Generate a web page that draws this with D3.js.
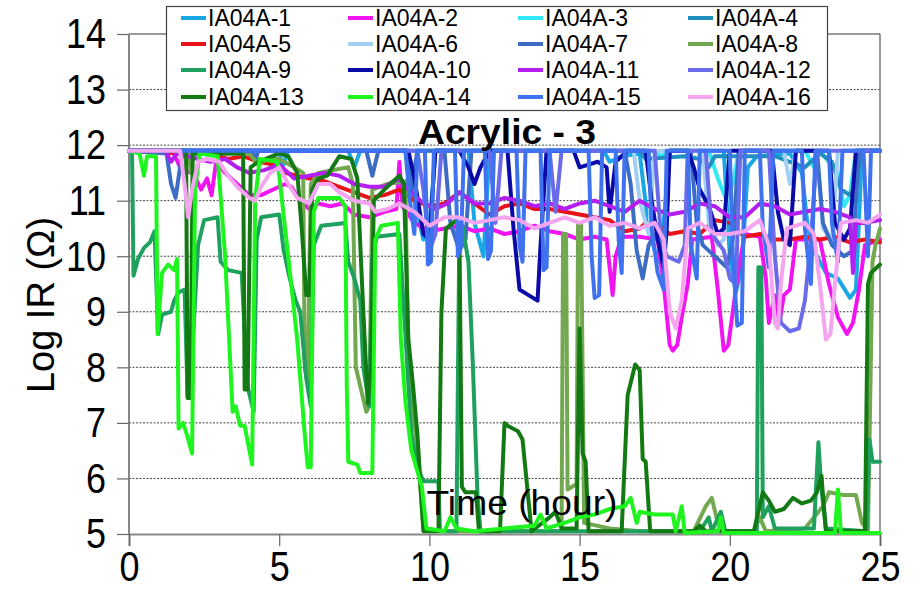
<!DOCTYPE html>
<html>
<head>
<meta charset="utf-8">
<script src="https://cdn.jsdelivr.net/npm/d3@7"></script>
<style>
  body { margin: 0; background: #fff; }
  svg { display: block; font-family: "Liberation Sans", Arial, sans-serif; }
</style>
</head>
<body>
<div id="chart"></div>
<script>
// series names, legend order
var names = ["IA04A-1","IA04A-2","IA04A-3","IA04A-4","IA04A-5","IA04A-6","IA04A-7","IA04A-8",
             "IA04A-9","IA04A-10","IA04A-11","IA04A-12","IA04A-13","IA04A-14","IA04A-15","IA04A-16"];
var colors = ["#1aa7e6","#f014f0","#33e8f5","#1f8fbf","#e8141a","#a3cff2","#3d6cc4","#72a84f",
              "#1fa05e","#0a0aa8","#b41ef0","#6b6bea","#137a13","#1ef51e","#3f72ee","#f5a5ef"];
var yTicks = [5,6,7,8,9,10,11,12,13,14];
var xTicks = [0,5,10,15,20,25];

// [hour, log IR]
var ia01 = [[0,11.9],[5.0,11.9],[5.1,11.6],[5.3,11.9],[7.3,11.9],[7.5,11.6],[7.7,11.9],[9.3,11.9],[9.5,11.0],[9.8,10.3],[10.0,10.5],[10.2,11.9],[11.3,11.9],[11.5,10.6],[11.8,10.0],[12.0,11.9],[15.8,11.9],[16.0,11.7],[16.4,11.8],[17.0,11.85],[17.3,10.5],[17.6,9.9],[17.8,10.6],[18.0,11.9],[19.8,11.9],[20.0,10.0],[20.2,9.35],[20.4,9.8],[20.6,11.6],[20.9,11.8],[22.0,11.85],[22.4,11.5],[22.6,10.5],[22.9,10.0],[23.2,9.7],[23.6,9.6],[24.0,9.25],[24.2,9.4],[24.4,11.9],[25,11.9]];
var ia02 = [[0,11.9],[1.5,11.85],[1.7,11.6],[1.9,11.5],[2.1,11.55],[2.4,11.2],[2.6,11.4],[2.75,11.1],[2.9,11.7],[3.2,11.5],[3.6,11.3],[4.0,11.1],[4.4,11.1],[4.8,11.2],[5.2,11.3],[5.4,11.25],[5.7,11.0],[6.0,10.85],[6.3,10.95],[6.7,10.9],[7.1,10.95],[7.5,10.75],[8.0,10.7],[8.5,10.8],[8.9,10.85],[9.0,11.7],[9.1,10.9],[9.5,10.6],[10.0,10.45],[10.5,10.5],[11.0,10.55],[11.5,10.45],[12.0,10.5],[12.5,10.4],[13.0,10.45],[13.5,10.55],[14.0,10.45],[14.5,10.4],[15.0,10.3],[15.5,10.35],[15.9,10.3],[16.0,9.8],[16.1,9.3],[16.2,10.0],[16.4,10.35],[17.0,10.35],[17.6,10.3],[17.8,9.5],[18.0,8.4],[18.1,8.3],[18.25,8.4],[18.4,8.9],[18.6,9.5],[18.75,10.3],[19.4,10.35],[19.6,9.4],[19.8,8.3],[19.95,8.4],[20.1,9.0],[20.3,9.8],[20.5,10.4],[21.0,10.35],[21.2,9.6],[21.3,8.8],[21.5,9.3],[21.65,8.8],[21.8,9.3],[22.0,9.4],[22.2,10.3],[23.0,10.3],[23.3,9.5],[23.6,8.9],[23.9,8.6],[24.1,8.8],[24.3,9.4],[24.5,10.2],[25,10.3]];
var ia03 = [[0,11.9],[17.5,11.9],[17.7,11.8],[18.0,11.9],[19.3,11.9],[19.6,11.4],[19.9,11.0],[20.1,11.3],[20.3,11.9],[22.5,11.9],[22.8,11.6],[23.0,11.9],[23.6,11.5],[23.8,10.9],[24.0,11.1],[24.2,11.9],[25,11.9]];
var ia04 = [[0,11.9],[17.0,11.9],[17.2,11.75],[18.5,11.8],[19.0,11.75],[19.3,11.6],[19.5,11.8],[21.5,11.8],[22.0,11.7],[22.5,11.6],[23.0,11.85],[23.4,11.7],[23.7,11.2],[24.0,11.1],[24.2,11.3],[24.4,11.9],[25,11.9]];
var ia05 = [[0,11.9],[2.0,11.85],[2.5,11.85],[3.0,11.8],[3.3,11.75],[3.8,11.8],[4.3,11.7],[4.8,11.65],[5.2,11.5],[5.6,11.45],[6.0,11.4],[6.5,11.35],[7.0,11.25],[7.5,11.15],[8.0,11.05],[8.5,11.1],[9.0,11.2],[9.5,11.0],[10.0,10.9],[10.5,10.95],[11.0,11.15],[11.5,10.95],[12.0,10.75],[12.5,10.9],[13.0,10.95],[13.5,10.85],[14.0,10.85],[14.5,10.8],[15.0,10.75],[15.5,10.7],[16.0,10.65],[16.5,10.45],[17.0,10.5],[17.3,10.65],[17.6,10.55],[18.0,10.4],[18.5,10.45],[19.0,10.4],[19.5,10.65],[20.0,10.6],[20.5,10.35],[21.0,10.4],[21.5,10.3],[22.0,10.3],[22.5,10.35],[23.0,10.3],[23.5,10.35],[24.0,10.25],[24.5,10.3],[25,10.25]];
var ia06 = [[0,11.9],[16.8,11.9],[17.0,11.0],[17.3,10.4],[17.5,11.9],[19.1,11.9],[19.3,10.6],[19.6,10.2],[19.8,10.3],[20.0,11.9],[21.8,11.9],[22.0,11.3],[22.2,11.9],[22.9,11.9],[23.1,10.5],[23.4,10.3],[23.6,11.9],[25,11.9]];
var ia07 = [[0,11.9],[1.25,11.85],[1.4,11.3],[1.55,11.05],[1.7,11.6],[1.8,11.9],[4.1,11.9],[4.2,11.7],[4.3,11.9],[7.9,11.9],[8.1,11.45],[8.3,11.9],[9.2,11.9],[9.4,11.2],[9.6,11.9],[10.5,11.9],[10.7,10.6],[11.0,10.1],[11.2,10.3],[11.4,11.9],[16.5,11.9],[16.7,11.3],[16.9,10.1],[17.1,9.6],[17.3,10.2],[17.5,10.4],[17.8,10.3],[18.0,11.9],[18.7,11.9],[18.9,10.6],[19.1,10.2],[19.5,10.0],[19.9,9.8],[20.1,10.3],[20.3,11.9],[22.9,11.9],[23.1,10.6],[23.4,10.2],[23.8,10.0],[24.1,10.1],[24.3,11.9],[25,11.9]];
var ia08 = [[0,11.9],[2.0,11.9],[2.05,11.5],[2.15,11.85],[4.0,11.85],[4.3,11.65],[4.6,11.75],[5.0,11.75],[5.5,11.6],[5.8,11.5],[5.85,8.0],[5.95,7.7],[6.05,11.3],[6.3,11.5],[7.3,11.6],[7.45,11.3],[7.55,8.0],[7.9,7.2],[8.0,7.3],[8.1,11.2],[8.6,11.3],[9.2,11.35],[9.3,8.0],[9.6,6.5],[9.8,5.1],[10.5,5.05],[14.4,5.05],[14.45,10.4],[14.55,10.4],[14.6,5.8],[14.9,5.9],[14.95,10.6],[15.05,10.6],[15.15,5.2],[16,5.1],[17,5.05],[18.8,5.05],[19.2,5.5],[19.4,5.65],[19.6,5.2],[19.8,5.05],[20.8,5.05],[21.0,5.3],[21.2,5.05],[22.5,5.1],[23.1,5.5],[23.3,5.75],[23.8,5.7],[24.2,5.7],[24.4,5.2],[24.6,5.05],[24.75,9.9],[24.85,10.2],[25,10.5]];
var ia09 = [[0,11.9],[0.1,11.9],[0.15,9.65],[0.3,9.95],[0.5,10.15],[0.7,10.25],[0.85,10.45],[0.97,8.6],[1.1,8.95],[1.4,9.0],[1.5,9.2],[1.65,9.35],[1.85,9.4],[1.95,7.5],[2.1,8.2],[2.3,10.2],[2.5,10.65],[2.95,10.7],[3.05,9.9],[3.3,9.75],[3.75,9.7],[3.95,7.65],[4.15,7.2],[4.25,10.3],[4.4,10.7],[5.0,10.75],[5.15,10.1],[5.35,9.6],[5.55,9.2],[5.7,9.0],[5.9,7.8],[6.05,7.3],[6.15,10.2],[6.4,10.55],[7.2,10.6],[7.3,9.9],[7.5,9.6],[7.7,9.2],[7.8,8.0],[8.0,7.3],[8.1,10.0],[8.25,10.35],[9.0,10.4],[9.2,8.6],[9.4,6.8],[9.6,6.2],[9.8,5.95],[10.3,5.95],[10.35,5.05],[10.9,5.05],[11.0,10.6],[11.1,10.55],[11.3,9.9],[11.45,8.0],[11.6,5.7],[11.7,5.05],[19.0,5.05],[19.3,5.3],[19.4,5.05],[19.7,5.4],[19.85,5.05],[20.9,5.05],[20.95,9.8],[21.05,9.8],[21.1,5.3],[21.3,5.5],[21.5,5.1],[22.8,5.1],[22.95,6.65],[23.05,5.8],[23.2,5.1],[24.55,5.05],[24.65,6.7],[24.75,6.3],[25,6.3]];
var ia10 = [[0,11.9],[9.3,11.9],[9.5,11.4],[9.8,10.4],[10.0,10.3],[10.2,11.9],[11.0,11.9],[11.3,11.6],[11.5,11.3],[11.7,11.6],[12.0,11.9],[12.6,11.9],[12.8,10.5],[13.0,9.4],[13.3,9.3],[13.6,9.2],[13.7,10.2],[13.9,11.9],[14.8,11.9],[15.0,11.6],[15.3,11.65],[15.6,11.7],[15.9,11.6],[16.0,10.8],[16.2,11.7],[16.6,11.9],[17.2,11.9],[17.4,11.0],[17.6,10.3],[17.8,9.8],[17.9,10.5],[18.0,11.9],[18.6,11.9],[18.8,11.6],[19.0,11.2],[19.3,10.9],[19.6,10.4],[19.8,10.5],[20.0,11.9],[21.4,11.9],[21.6,10.8],[21.8,10.3],[22.0,10.2],[22.2,11.9],[23.3,11.9],[23.5,10.6],[23.8,10.3],[24.0,10.5],[24.2,11.9],[25,11.9]];
var ia11 = [[0,11.9],[1.2,11.9],[1.4,11.7],[1.6,11.85],[2.3,11.75],[2.7,11.7],[3.2,11.75],[3.6,11.6],[4.0,11.5],[4.5,11.55],[5.0,11.65],[5.5,11.4],[6.0,11.45],[6.5,11.5],[7.0,11.45],[7.5,11.3],[8.0,11.25],[8.5,11.25],[9.0,11.4],[9.3,11.2],[9.7,11.0],[10.2,10.85],[10.6,10.95],[11.0,11.15],[11.5,10.95],[12.0,10.95],[12.5,11.05],[13.0,11.0],[13.5,10.9],[14.0,10.95],[14.5,10.85],[15.0,10.95],[15.5,11.0],[16.0,10.9],[16.5,10.8],[17.0,11.0],[17.5,10.85],[18.0,10.75],[18.5,10.8],[19.0,10.95],[19.5,10.9],[20.0,10.7],[20.5,10.7],[21.0,10.95],[21.5,10.9],[22.0,10.75],[22.5,10.8],[23.0,10.85],[23.5,10.8],[24.0,10.7],[24.1,9.7],[24.2,10.6],[24.5,10.6],[25,10.65]];
var ia12 = [[0,11.9],[9.6,11.9],[9.8,11.2],[10.0,10.1],[10.2,10.4],[10.4,11.9],[12.0,11.9],[12.2,10.6],[12.4,11.9],[14.0,11.9],[14.2,10.8],[14.4,11.9],[17.5,11.9],[17.7,10.4],[17.9,10.0],[18.3,9.9],[18.5,10.2],[18.6,11.9],[19.2,11.9],[19.4,10.4],[19.8,10.1],[20.0,9.6],[20.2,9.5],[20.35,11.9],[21.3,11.9],[21.5,10.0],[21.7,8.8],[22.0,8.65],[22.3,8.7],[22.5,9.2],[22.7,10.3],[22.9,11.9],[25,11.9]];
var ia13 = [[0,11.9],[1.9,11.9],[1.95,7.45],[2.05,7.45],[2.12,11.85],[3.8,11.85],[3.85,7.6],[3.95,7.6],[4.05,11.6],[4.3,11.7],[5.0,11.85],[5.3,11.8],[5.6,11.5],[5.75,10.5],[5.9,9.3],[6.0,9.3],[6.1,11.2],[6.3,11.4],[6.6,11.45],[7.0,11.8],[7.4,11.75],[7.6,11.4],[7.8,9.0],[7.95,7.35],[8.05,8.0],[8.15,11.0],[8.5,11.2],[9.0,11.45],[9.15,11.3],[9.3,8.5],[9.45,7.7],[9.6,6.8],[9.8,5.05],[10.3,5.05],[10.4,9.0],[10.55,10.5],[10.9,10.65],[11.0,10.4],[11.08,5.85],[11.2,5.75],[11.55,5.75],[11.65,5.05],[12.35,5.05],[12.5,7.0],[12.6,6.95],[12.95,6.85],[13.1,6.7],[13.3,5.6],[13.4,5.05],[14.0,5.3],[14.2,5.4],[14.4,5.1],[14.9,5.1],[15.0,8.7],[15.1,6.45],[15.2,6.3],[15.3,5.05],[16.4,5.05],[16.6,7.5],[16.85,8.05],[17.0,7.95],[17.1,6.35],[17.2,6.3],[17.35,5.05],[18.8,5.05],[19.0,5.15],[19.2,5.05],[20.8,5.05],[21.1,5.75],[21.3,5.6],[21.5,5.4],[21.8,5.45],[22.1,5.65],[22.4,5.55],[22.7,5.6],[22.9,5.75],[23.05,6.05],[23.2,5.05],[24.5,5.05],[24.6,9.5],[24.7,9.7],[25,9.85]];
var ia14 = [[0,11.9],[0.35,11.85],[0.5,11.45],[0.6,11.8],[0.9,11.8],[0.95,8.6],[1.1,9.7],[1.3,9.85],[1.5,9.75],[1.6,9.95],[1.65,6.9],[1.8,7.0],[1.95,6.75],[2.1,6.45],[2.2,11.2],[2.35,11.85],[2.95,11.8],[3.2,10.0],[3.45,7.2],[3.55,7.3],[3.7,6.95],[3.85,6.95],[4.1,6.25],[4.2,11.0],[4.35,11.75],[4.95,11.7],[5.3,10.0],[5.6,8.5],[5.85,6.8],[5.95,6.2],[6.05,6.2],[6.15,10.8],[6.3,11.05],[7.0,11.05],[7.2,10.9],[7.25,7.65],[7.3,6.3],[7.6,6.25],[7.7,6.1],[8.1,6.1],[8.2,10.3],[8.4,10.55],[8.95,10.6],[9.05,8.5],[9.2,7.4],[9.4,6.5],[9.75,5.85],[9.9,5.1],[10.5,5.05],[10.7,5.3],[10.9,5.1],[11.5,5.05],[12.5,5.1],[13.5,5.15],[13.7,5.35],[13.9,5.1],[14.5,5.2],[15,5.3],[15.5,5.35],[16,5.45],[16.5,5.5],[16.7,5.65],[16.9,5.2],[17.0,5.4],[17.5,5.35],[18.1,5.35],[18.2,5.05],[18.4,5.5],[18.5,5.02],[19.6,5.05],[19.7,5.3],[19.8,5.02],[23.5,5.02],[23.6,5.8],[23.7,5.02],[25,5.02]];
var ia15 = [[0,11.9],[9.2,11.9],[9.35,11.0],[9.5,10.4],[9.6,11.9],[9.85,11.9],[9.95,9.85],[10.05,9.9],[10.15,11.9],[10.85,11.9],[10.95,10.0],[11.05,10.2],[11.15,11.9],[11.85,11.9],[11.95,9.95],[12.05,10.1],[12.15,11.9],[12.9,11.9],[13.0,10.2],[13.1,9.9],[13.2,11.9],[13.7,11.9],[13.8,9.75],[13.9,9.8],[14.0,11.9],[15.3,11.9],[15.4,10.0],[15.5,9.25],[15.65,9.3],[15.75,11.9],[16.2,11.9],[16.3,10.3],[16.4,9.7],[16.5,11.9],[17.3,11.9],[17.4,10.5],[17.6,9.7],[17.8,9.4],[17.9,11.9],[18.6,11.9],[18.7,10.2],[18.9,9.6],[19.0,11.9],[20.0,11.9],[20.1,10.0],[20.25,8.75],[20.4,8.8],[20.5,11.9],[21.0,11.9],[21.1,10.5],[21.3,9.8],[21.45,11.9],[22.4,11.9],[22.5,10.5],[22.7,9.5],[22.85,11.9],[23.3,11.9],[23.4,10.6],[23.6,9.9],[23.75,11.9],[24.45,11.9],[24.6,10.0],[24.7,11.9],[25,11.9]];
var ia16 = [[0,11.9],[1.7,11.9],[1.85,11.3],[1.97,10.7],[2.1,11.2],[2.3,11.7],[2.6,11.75],[3.0,11.7],[3.3,11.45],[3.6,11.25],[4.0,11.05],[4.2,11.0],[4.4,11.25],[4.7,11.5],[5.0,11.6],[5.3,11.3],[5.6,11.05],[6.0,10.95],[6.3,11.3],[6.7,11.3],[7.0,11.15],[7.5,11.0],[8.0,10.95],[8.2,10.8],[8.6,10.85],[9.0,10.95],[9.5,10.8],[10.0,10.55],[10.5,10.7],[11.0,10.7],[11.5,10.6],[12.0,10.65],[12.5,10.7],[13.0,10.65],[13.5,10.5],[14.0,10.6],[14.5,10.7],[15.0,10.6],[15.5,10.7],[16.0,10.55],[16.5,10.6],[17.0,10.5],[17.5,10.6],[17.8,10.3],[18.0,9.0],[18.2,8.7],[18.4,9.2],[18.6,10.5],[19.0,10.6],[19.5,10.4],[20.0,10.4],[20.5,10.45],[21.0,10.65],[21.3,10.2],[21.5,8.8],[21.6,8.7],[21.7,9.5],[21.9,10.5],[22.5,10.6],[22.8,10.4],[23.0,9.5],[23.2,8.5],[23.35,8.6],[23.5,9.5],[23.7,10.6],[24.2,10.65],[24.6,10.6],[25,10.75]];

var seriesData = [ia01,ia02,ia03,ia04,ia05,ia06,ia07,ia08,ia09,ia10,ia11,ia12,ia13,ia14,ia15,ia16];

(function(){
	var W = 919, H = 598;
	var left = 129, right = 880, top = 34, bottom = 534;
	var stretch = 1.2; // tick digits in the picture are drawn tall

	var svg = d3.select("#chart").append("svg")
						.attr("width", W)
						.attr("height", H);
	svg.append("rect").attr("width", W).attr("height", H).attr("fill", "#fff");

	var x = d3.scaleLinear().domain([0, 25]).range([left, right]);
	var y = d3.scaleLinear().domain([5, 14]).range([bottom, top]);

	// dotted grid
	svg.append("g").selectAll("line")
		.data(yTicks.filter(function(d){ return d > 5 && d < 14; }))
		.enter().append("line")
		.attr("x1", left).attr("x2", right)
		.attr("y1", function(d){ return y(d); })
		.attr("y2", function(d){ return y(d); })
		.attr("stroke", "#444")
		.attr("stroke-width", 1)
		.attr("stroke-dasharray", "2,1.5");

	// frame top / right
	svg.append("line").attr("x1", left).attr("x2", right)
		.attr("y1", y(14)).attr("y2", y(14))
		.attr("stroke", "#777").attr("stroke-width", 1.5);
	svg.append("line").attr("x1", right).attr("x2", right)
		.attr("y1", y(14)).attr("y2", y(5))
		.attr("stroke", "#777").attr("stroke-width", 1.5);

	// axes
	var yAxis = svg.append("g")
		.attr("transform", "translate(" + left + ",0)")
		.call(d3.axisLeft(y).tickValues(yTicks).tickSize(12).tickPadding(11).tickFormat(d3.format("d")));
	var xAxis = svg.append("g")
		.attr("transform", "translate(0," + bottom + ")")
		.call(d3.axisBottom(x).tickValues(xTicks).tickSize(12).tickPadding(7).tickFormat(d3.format("d")));
	[yAxis, xAxis].forEach(function(g){
		g.select(".domain").attr("stroke", "#888").attr("stroke-width", 2);
		g.selectAll(".tick line").attr("stroke", "#666").attr("stroke-width", 1.2);
		g.selectAll(".tick text").attr("font-size", 36).attr("fill", "#000")
			.attr("font-family", "'Liberation Sans', Arial, sans-serif")
			.attr("transform", "scale(1," + stretch + ")");
	});
	xAxis.selectAll(".tick text").attr("y", 13.5);
	yAxis.select(".domain").attr("d", "M0," + (y(14)) + "V" + (y(5)));

	// lines
	var line = d3.line()
		.x(function(d){ return x(d[0]); })
		.y(function(d){ return y(d[1]); });

	svg.append("g").selectAll("path")
		.data(seriesData)
		.enter().append("path")
		.attr("d", line)
		.attr("fill", "none")
		.attr("stroke", function(d, i){ return colors[i]; })
		.attr("stroke-width", 4)
		.attr("stroke-linejoin", "round")
		.attr("stroke-linecap", "round");

	// titles
	svg.append("text")
		.attr("transform", "translate(507,144) scale(1,1.12)")
		.attr("text-anchor", "middle")
		.attr("font-size", 32).attr("font-weight", "bold")
		.attr("textLength", 178).attr("lengthAdjust", "spacingAndGlyphs")
		.text("Acrylic - 3");
	svg.append("text")
		.attr("transform", "translate(522,515) scale(1,1.12)")
		.attr("text-anchor", "middle")
		.attr("font-size", 32)
		.attr("textLength", 191).attr("lengthAdjust", "spacingAndGlyphs")
		.text("Time (hour)");
	svg.append("text")
		.attr("transform", "translate(54,305) rotate(-90)")
		.attr("text-anchor", "middle")
		.attr("font-size", 38)
		.text("Log IR (Ω)");

	// legend
	var legend = svg.append("g");
	legend.append("rect")
		.attr("x", 166.5).attr("y", 6.5).attr("width", 661).attr("height", 104)
		.attr("fill", "#fff").attr("stroke", "#444").attr("stroke-width", 1.2);
	var colX = [181, 348, 518, 688];
	var rowY = [18, 44, 70, 97];
	var items = legend.selectAll("g.item")
		.data(names)
		.enter().append("g")
		.attr("class", "item")
		.attr("transform", function(d, i){
			return "translate(" + colX[i % 4] + "," + rowY[Math.floor(i / 4)] + ")";
		});
	items.append("line")
		.attr("x1", 0).attr("x2", 25)
		.attr("stroke", function(d, i){ return colors[i]; })
		.attr("stroke-width", 4);
	items.append("text")
		.attr("x", 27).attr("dy", "0.36em")
		.attr("font-size", 23)
		.text(function(d){ return d; });
})();
</script>
</body>
</html>
